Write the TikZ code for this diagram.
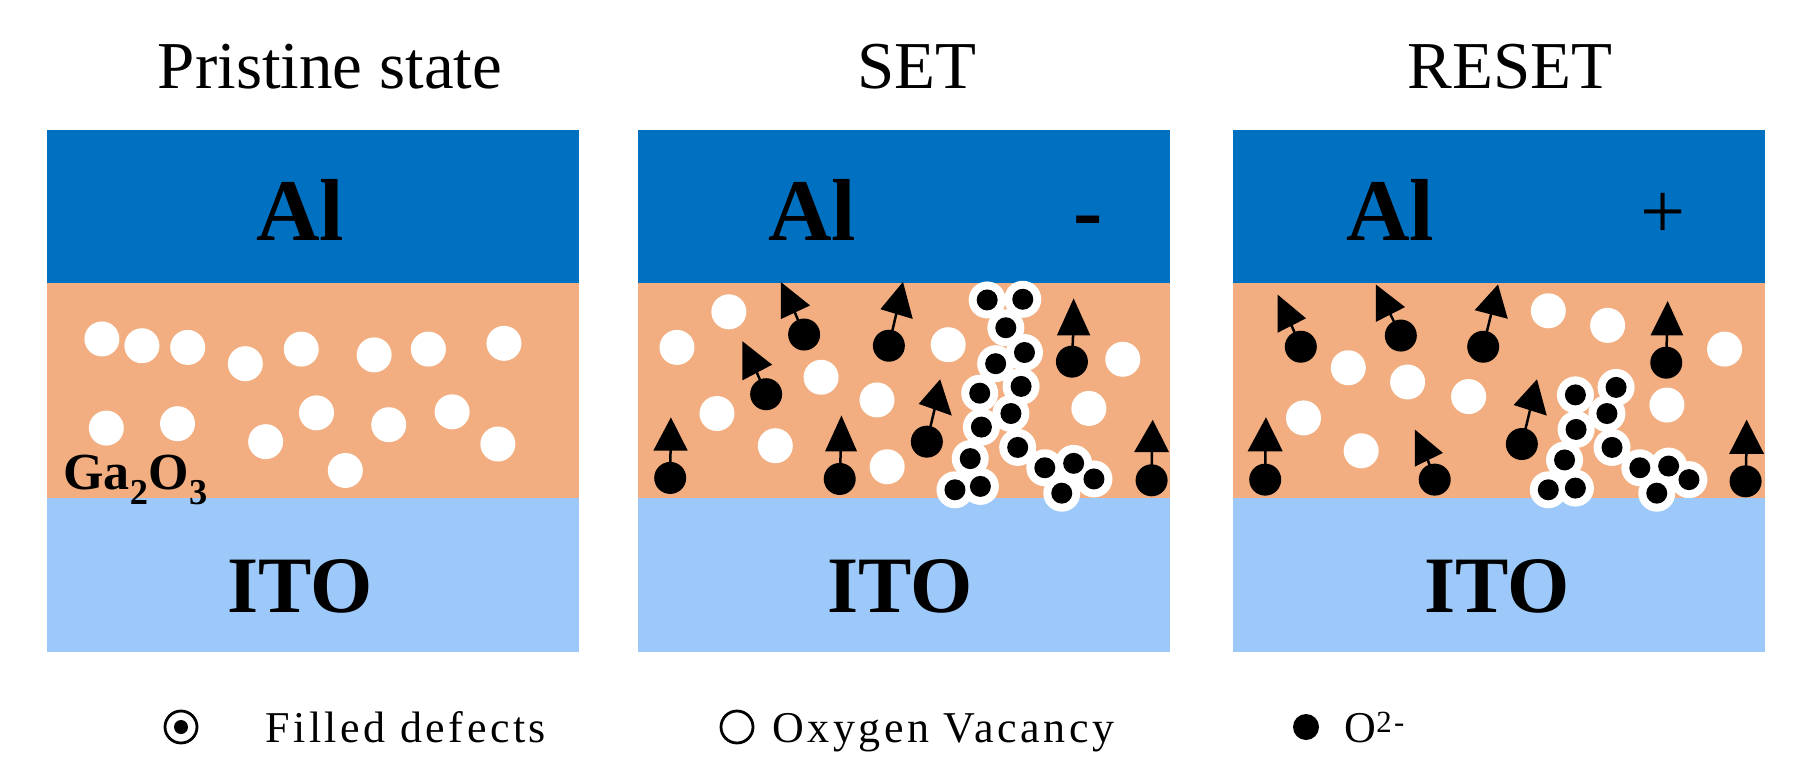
\documentclass[tikz,border=0pt]{standalone}
\usepackage{fontspec}
\setmainfont{Liberation Serif}
\usetikzlibrary{calc}
\definecolor{alc}{HTML}{0070C0}
\definecolor{gac}{HTML}{F2AE80}
\definecolor{itoc}{HTML}{9CC9F9}
\newcommand{\vac}[2]{\fill[white] (#1,#2) circle (17.5pt);}
\newcommand{\ionx}[8]{\fill (#1,#2) circle (16pt);
  \draw[line width=2.5pt] (#1,#2) -- ($0.3333*(#3,#4)+0.3333*(#5,#6)+0.3334*(#7,#8)$);
  \fill[scale around={1.15:($0.3333*(#3,#4)+0.3333*(#5,#6)+0.3334*(#7,#8)$)}] (#3,#4)--(#5,#6)--(#7,#8)--cycle;}
\newcommand{\defw}[2]{\fill[white] (#1,#2) circle (18.5pt);}
\newcommand{\defb}[2]{\fill[black] (#1,#2) circle (10.5pt);}
\begin{document}
\begin{tikzpicture}[x=1pt,y=-1pt,
  ttl/.style={font=\fontsize{67}{67}\selectfont,anchor=base},
  albl/.style={font=\fontsize{88}{88}\selectfont\bfseries,anchor=base},
  ilbl/.style={font=\fontsize{80}{80}\selectfont\bfseries,anchor=base},
  leg/.style={font=\fontsize{44}{44}\selectfont\addfontfeature{LetterSpace=8},anchor=base west}]
\useasboundingbox (0,0) rectangle (1805,771);
\fill[white] (0,0) rectangle (1805,771);
% panels
\foreach \x in {47,638,1233}{
  \fill[alc] (\x,130) rectangle ++(532,153);
  \fill[gac] (\x,283) rectangle ++(532,215);
  \fill[itoc] (\x,498) rectangle ++(532,154);
}
% titles
\node[ttl] (t1) at (330,88) {Pristine state};
\node[ttl] (t2) at (917,88) {SET};
\node[ttl] (t3) at (1510,88) {RESET};
% Al / ITO
\node[albl] (a1) at (300,240) {Al};
\node[albl] (a2) at (812,240) {Al};
\node[albl] (a3) at (1390,240) {Al};
\node[albl] (m2) at (1088,240) {-};
\node[albl,font=\fontsize{80}{80}\selectfont] (p3) at (1663,238) {+};
\node[ilbl] (i1) at (300,612) {ITO};
\node[ilbl] (i2) at (900,612) {ITO};
\node[ilbl] (i3) at (1497,612) {ITO};
% panel 1
\begin{scope}[shift={(47,283)},x=0.339pt,y=-0.339pt]
\foreach \a/\b in {162/165,280/185,415/190,585/238,750/195,965/212,1125/195,1348/178,
 175/428,385/415,645/468,795/383,1008/418,1195/380,1330/475,880/553}{\vac{\a}{\b}}
\end{scope}
\node[font=\fontsize{52}{52}\selectfont\bfseries,anchor=base west] (ga) at (60,489) {Ga\textsubscript{2}O\textsubscript{3}};
% panel 2
\begin{scope}[shift={(638,283)},x=0.339pt,y=-0.339pt]
\foreach \a/\b in {268/85,115/190,540/278,233/385,405/480,705/345,915/182,735/542,1430/225,1330/370}{\vac{\a}{\b}}
\ionx{490}{152}{425}{5}{500}{65}{425}{100}
\ionx{740}{185}{780}{5}{722}{75}{805}{100}
\ionx{378}{328}{312}{180}{388}{240}{312}{280}
\ionx{95}{575}{97}{405}{52}{490}{140}{490}
\ionx{595}{578}{600}{400}{558}{492}{640}{492}
\ionx{852}{468}{890}{292}{835}{355}{920}{385}
\ionx{1280}{232}{1285}{55}{1242}{150}{1328}{150}
\ionx{1515}{582}{1518}{412}{1470}{495}{1560}{495}
\foreach \a/\b in {1030/50,1135/48,1085/132,1140/205,1055/238,1130/305,1008/325,1100/385,1013/425,1120/485,980/518,1200/545,1285/532,1345/578,935/610,1010/600,1250/620}{\defw{\a}{\b}}
\foreach \a/\b in {1030/50,1135/48,1085/132,1140/205,1055/238,1130/305,1008/325,1100/385,1013/425,1120/485,980/518,1200/545,1285/532,1345/578,935/610,1010/600,1250/620}{\defb{\a}{\b}}
\end{scope}
% panel 3
\begin{scope}[shift={(1233,283)},x=0.339pt,y=-0.339pt]
\foreach \a/\b in {930/82,1105/125,1450/195,340/250,515/292,695/335,208/398,378/495,1280/360}{\vac{\a}{\b}}
\ionx{200}{188}{135}{42}{208}{103}{135}{140}
\ionx{495}{155}{425}{12}{500}{70}{425}{108}
\ionx{738}{188}{780}{12}{720}{78}{805}{100}
\ionx{1278}{235}{1282}{62}{1238}{150}{1322}{150}
\ionx{95}{580}{97}{405}{50}{492}{140}{492}
\ionx{595}{580}{540}{440}{612}{500}{540}{535}
\ionx{852}{475}{895}{292}{835}{358}{920}{385}
\ionx{1512}{585}{1515}{412}{1470}{500}{1560}{500}
\foreach \a/\b in {1010/330,1130/308,1103/385,1012/432,1118/485,978/522,1200/545,1285/540,1345/580,930/610,1010/605,1250/620}{\defw{\a}{\b}}
\foreach \a/\b in {1010/330,1130/308,1103/385,1012/432,1118/485,978/522,1200/545,1285/540,1345/580,930/610,1010/605,1250/620}{\defb{\a}{\b}}
\end{scope}
% legend
\draw[line width=2.8pt] (181,727) circle (16pt);
\fill (181,727) circle (7pt);
\node[leg] (l1) at (262,742) {Filled defects};
\draw[line width=2.8pt] (737,727) circle (16pt);
\node[leg] (l2) at (769,742) {Oxygen Vacancy};
\fill (1306,727) circle (13pt);
\node[leg] (l3) at (1341,742) {O\textsuperscript{2-}};
\end{tikzpicture}
\end{document}
